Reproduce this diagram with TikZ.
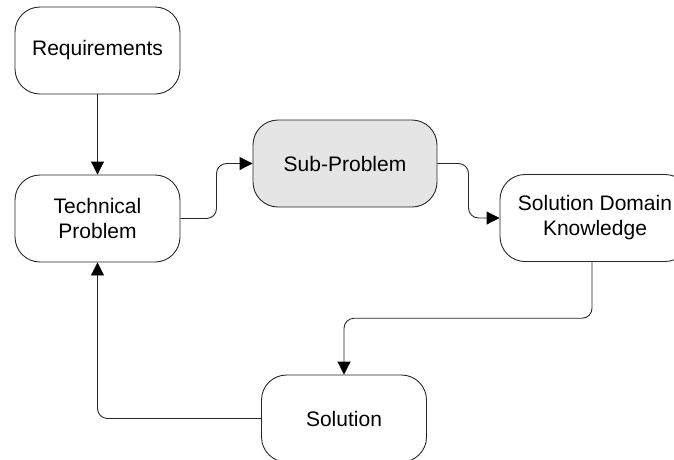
\documentclass[tikz,border=0pt]{standalone}
\usepackage{fontspec}
\setmainfont{Liberation Sans}
\usetikzlibrary{arrows.meta,calc}
\begin{document}
\begin{tikzpicture}[x=1pt,y=-1pt,
  box/.style={draw=black!85,line width=0.9pt,rounded corners=25pt,minimum width=165pt,minimum height=87pt,
    align=center,font=\fontsize{21}{25}\selectfont,inner sep=0pt},
  conn/.style={draw=black!85,line width=0.9pt,rounded corners=10pt,-{Triangle[length=13pt,width=13pt,fill=black,color=black]}}]
\useasboundingbox (0,0) rectangle (674,459);
\clip (0,0) rectangle (674,459);
\node[box] (req) at (97.5,50.5) {Requirements};
\node[box] (tech) at (97.5,218.5) {Technical\\Problem};
\node[box,fill=black!10,minimum width=184pt] (sub) at (345,163.5) {Sub-Problem};
\node[box,minimum width=190pt] (sdk) at (595,218) {Solution Domain\\Knowledge};
\node[box] (sol) at (344,418.5) {Solution};
\coordinate (m1) at ($(tech.east)!0.5!(sub.west)$);
\coordinate (m2) at ($(sub.east)!0.5!(sdk.west)$);
\coordinate (m3) at ($(sdk.south)!0.5!(sol.north)$);
\draw[conn] (req.south) -- (tech.north);
\draw[conn] (tech.east) -| (m1) |- (sub.west);
\draw[conn] (sub.east) -| (m2) |- (sdk.west);
\draw[conn] ([xshift=-3pt]sdk.south) |- (m3) -| (sol.north);
\draw[conn] (sol.west) -| (tech.south);
\end{tikzpicture}
\end{document}
